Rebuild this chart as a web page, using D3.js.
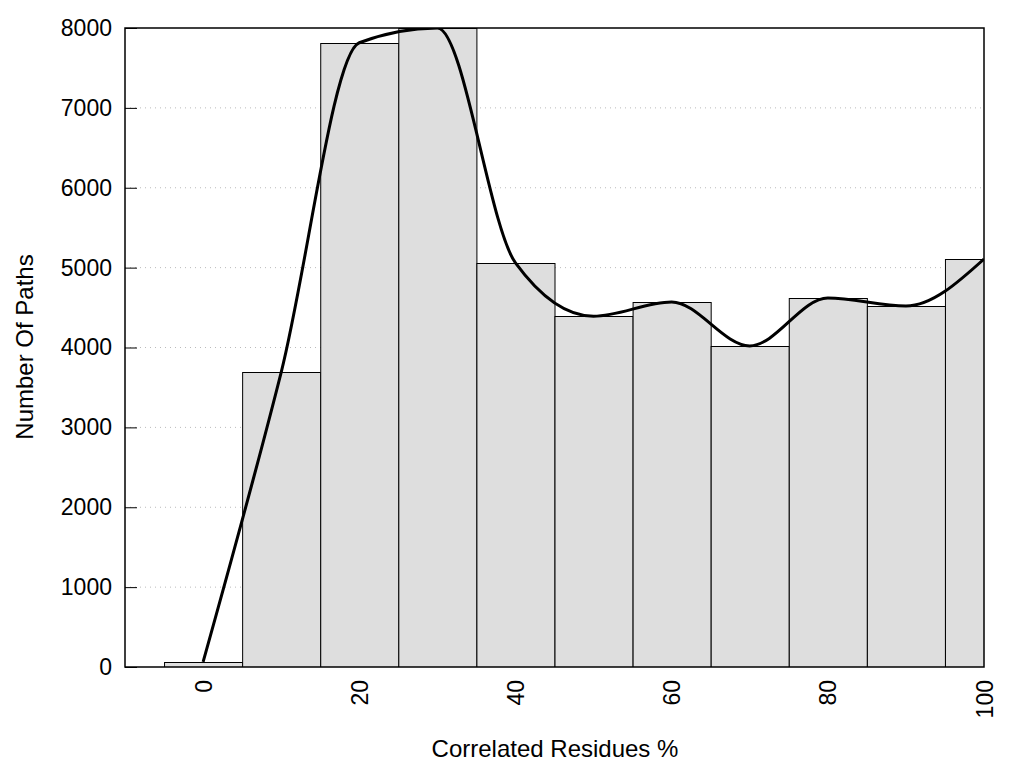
<!DOCTYPE html>
<html>
<head>
<meta charset="utf-8">
<script src="https://cdn.jsdelivr.net/npm/d3@7"></script>
<style>
  html, body { margin: 0; padding: 0; background: #fff; }
  svg { display: block; font-family: "Liberation Sans", Arial, sans-serif; }
</style>
</head>
<body>
<svg id="chart" width="1024" height="768"></svg>
<script>
const categories = [0, 10, 20, 30, 40, 50, 60, 70, 80, 90, 100];
const counts = [63, 3690, 7815, 8000, 5060, 4392, 4570, 4020, 4620, 4520, 5108];
const xTickValues = [0, 20, 40, 60, 80, 100];
const yTickValues = [0, 1000, 2000, 3000, 4000, 5000, 6000, 7000, 8000];
const binWidth = 10;

const W = 1024, H = 768;
const margin = { left: 125, right: 40, top: 28, bottom: 101 };
const iw = W - margin.left - margin.right;
const ih = H - margin.top - margin.bottom;

const svg = d3.select("#chart");
const g = svg.append("g").attr("transform", `translate(${margin.left},${margin.top})`);

const x = d3.scaleLinear().domain([-10, 100]).range([0, iw]);
const y = d3.scaleLinear().domain([0, 8000]).range([ih, 0]);

svg.append("defs").append("clipPath").attr("id", "clip")
  .append("rect").attr("x", 0).attr("y", 0).attr("width", iw).attr("height", ih);

// grid
g.append("g").selectAll("line")
  .data(yTickValues.filter(v => v > 0 && v < 8000))
  .join("line")
  .attr("x1", 0).attr("x2", iw)
  .attr("y1", d => y(d)).attr("y2", d => y(d))
  .attr("stroke", "#bbbbbb").attr("stroke-width", 1)
  .attr("stroke-dasharray", "1,4");

// bars
const data = categories.map((c, i) => ({ c, v: counts[i] }));
const plot = g.append("g").attr("clip-path", "url(#clip)");
plot.selectAll("rect.bar").data(data).join("rect")
  .attr("class", "bar")
  .attr("x", d => x(d.c - binWidth / 2) + 0.5)
  .attr("width", d => x(d.c + binWidth / 2) - x(d.c - binWidth / 2))
  .attr("y", d => Math.round(y(d.v)) + 0.5)
  .attr("height", d => ih - Math.round(y(d.v)))
  .attr("fill", "#dedede")
  .attr("stroke", "#000")
  .attr("stroke-width", 1);

// smooth curve
const line = d3.line()
  .x(d => x(d.c))
  .y(d => y(d.v))
  .curve(d3.curveMonotoneX);
plot.append("path").datum(data)
  .attr("d", line)
  .attr("fill", "none")
  .attr("stroke", "#000")
  .attr("stroke-width", 3)
  .attr("stroke-linejoin", "round");

// y axis ticks
const yAxis = d3.axisLeft(y).tickValues(yTickValues).tickSize(-12).tickPadding(14).tickFormat(d3.format("d"));
const ya = g.append("g").call(yAxis);
ya.select(".domain").remove();
ya.selectAll(".tick line").attr("stroke", "#000").attr("stroke-width", 1);
ya.selectAll(".tick text").attr("font-size", 23).attr("fill", "#000")
  .attr("font-family", "Liberation Sans, Arial, sans-serif").attr("x", -13);

// x axis labels
const xAxis = d3.axisBottom(x).tickValues(xTickValues).tickSize(0).tickFormat(d3.format("d"));
const xa = g.append("g").attr("transform", `translate(0,${ih})`).call(xAxis);
xa.select(".domain").remove();
xa.selectAll(".tick text")
  .attr("font-size", 23).attr("fill", "#000")
  .attr("font-family", "Liberation Sans, Arial, sans-serif")
  .attr("transform", "rotate(-90)")
  .attr("text-anchor", "end")
  .attr("x", -13).attr("y", 0).attr("dy", "0.35em");

// frame
g.append("rect").attr("x", 0).attr("y", 0).attr("width", iw).attr("height", ih)
  .attr("fill", "none").attr("stroke", "#000").attr("stroke-width", 1.5);

// titles
svg.append("text").attr("x", 555).attr("y", 757)
  .attr("text-anchor", "middle").attr("font-size", 24).attr("fill", "#000")
  .text("Correlated Residues %");
svg.append("text").attr("transform", `translate(33,347) rotate(-90)`)
  .attr("text-anchor", "middle").attr("font-size", 24).attr("fill", "#000")
  .text("Number Of Paths");
</script>
</body>
</html>
